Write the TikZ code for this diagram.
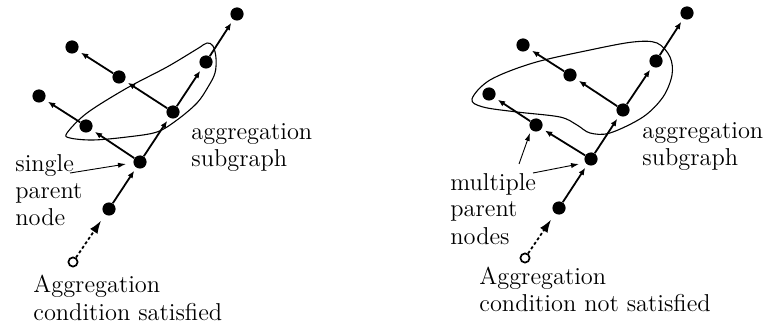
\documentclass[tikz,border=0pt]{standalone}
\usetikzlibrary{arrows.meta}
\begin{document}
\begin{tikzpicture}[x=0.5pt,y=-0.5pt,
  dot/.style={circle,fill=black,inner sep=0pt,minimum size=6.6pt},
  odot/.style={circle,draw=black,line width=0.85pt,fill=white,inner sep=0pt,minimum size=4.6pt},
  edge/.style={line width=0.9pt,-{Latex[length=3.6pt,width=3pt]},shorten >=1.8pt},
  dedge/.style={line width=0.9pt,dash pattern=on 1.5pt off 1.2pt,-{Latex[length=6.5pt,width=4.5pt]},shorten >=3.5pt},
  lab/.style={inner sep=0pt,align=left,anchor=base west,font=\fontsize{12.2}{13.5}\selectfont},
  pointer/.style={line width=0.45pt,-{Latex[length=4pt,width=2.6pt]}},
  blob/.style={line width=0.55pt}]
\useasboundingbox (0,0) rectangle (770,331);
% ---------- left graph ----------
\node[dot] (a1) at (237,14) {};
\node[dot] (a2) at (206,62) {};
\node[dot] (a3) at (173,112) {};
\node[dot] (a4) at (140,162) {};
\node[dot] (a5) at (109,209) {};
\node[odot] (ao) at (73,262) {};
\node[dot] (b1) at (86,126) {};
\node[dot] (b2) at (39,96) {};
\node[dot] (c1) at (119,77) {};
\node[dot] (c2) at (72,47) {};
\draw[edge] (a5) -- (a4);
\draw[edge] (a4) -- (a3);
\draw[edge] (a3) -- (a2);
\draw[edge] (a2) -- (a1);
\draw[edge] (a4) -- (b1);
\draw[edge] (b1) -- (b2);
\draw[edge] (a3) -- (c1);
\draw[edge] (c1) -- (c2);
\draw[dedge] (ao) -- (a5);
\draw[blob] plot[smooth cycle,tension=0.55] coordinates {(67,133) (87,113) (127,88) (167,67) (197,49) (207,43) (213,46) (216,58) (215,73) (208,87) (197,103) (177,120) (157,132) (127,137) (93,140) (70,138)};
\node[lab] (lagg) at (191,167) {aggregation\\subgraph};
\node[lab] (lsp) at (15,226) {single\\parent\\node};
\node[lab] (lcond) at (33,320) {Aggregation\\condition satisfied};
\coordinate (lp1) at (70,173);
\coordinate (lp2) at (126,164);
\draw[pointer] (lp1) -- (lp2);
% ---------- right graph ----------
\node[dot] (r1) at (687,13) {};
\node[dot] (r2) at (656,61) {};
\node[dot] (r3) at (623,110) {};
\node[dot] (r4) at (591,159) {};
\node[dot] (r5) at (559,208) {};
\node[odot] (ro) at (525,258) {};
\node[dot] (s1) at (536,125) {};
\node[dot] (s2) at (489,94) {};
\node[dot] (t1) at (570,75) {};
\node[dot] (t2) at (523,45) {};
\draw[edge] (r5) -- (r4);
\draw[edge] (r4) -- (r3);
\draw[edge] (r3) -- (r2);
\draw[edge] (r2) -- (r1);
\draw[edge] (r4) -- (s1);
\draw[edge] (s1) -- (s2);
\draw[edge] (r3) -- (t1);
\draw[edge] (t1) -- (t2);
\draw[dedge] (ro) -- (r5);
\draw[blob] plot[smooth cycle,tension=0.55] coordinates {(472,99) (490,80) (533,63) (590,50) (633,42) (657,43) (670,57) (672,75) (663,97) (643,117) (610,133) (590,133) (577,125) (560,117) (517,112) (483,107)};
\node[lab] (ragg) at (642,166) {aggregation\\subgraph};
\node[lab] (rmp) at (450,244) {multiple\\parent\\nodes};
\node[lab] (rcond) at (479,311) {Aggregation\\condition not satisfied};
\coordinate (rp1) at (533,173);
\coordinate (rp2) at (579,164);
\coordinate (rq1) at (519,164);
\coordinate (rq2) at (530,133);
\draw[pointer] (rp1) -- (rp2);
\draw[pointer] (rq1) -- (rq2);
\end{tikzpicture}
\end{document}
